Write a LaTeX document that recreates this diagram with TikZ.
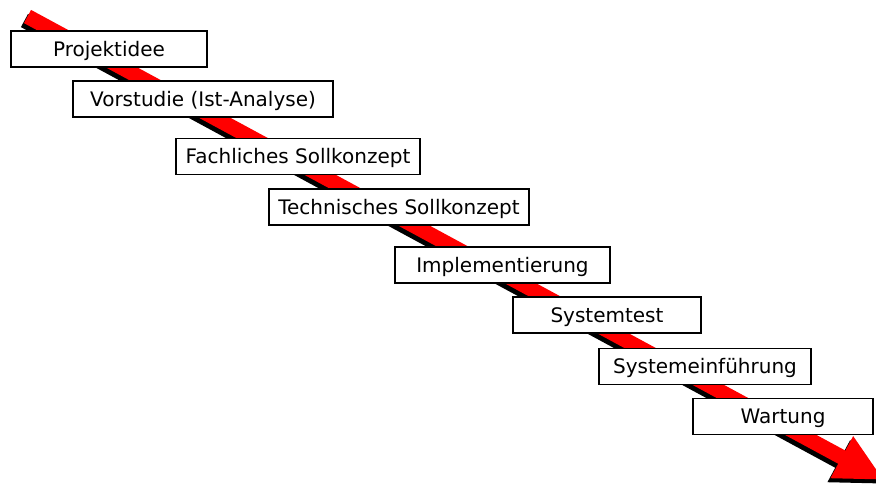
\documentclass[tikz,border=0pt]{standalone}
\usepackage{fontspec}
\setmainfont{DejaVu Sans}
\usetikzlibrary{arrows.meta}
\tikzstyle{phase} = [draw=black, fill=white, line width=1.5pt, rectangle, inner sep=0pt, minimum height=36pt, text height=14.6pt, text depth=0pt, font=\fontsize{20pt}{24pt}\selectfont]
\tikzstyle{pfeil} = [line width=15pt, -{Triangle[width=44pt, length=48pt]}]

\begin{document}
\begin{tikzpicture}[x=1pt, y=-1pt]
	\useasboundingbox (0,0) rectangle (876,485);
	\clip (0,0) rectangle (876,485);
	\coordinate (start) at (27.5,16.5);
	\coordinate (ende) at (884,480);
	\draw[pfeil, black] ([shift={(-3,4)}]start) -- ([shift={(-3,4)}]ende);
	\draw[pfeil, red] (start) -- (ende);
	\node[phase, minimum width=196pt](idee) at (109,49) {Projektidee};
	\node[phase, minimum width=260pt](vorstudie) at (203,99) {Vorstudie (Ist-Analyse)};
	\node[phase, minimum width=244pt](fachlich) at (298,156.5) {Fachliches Sollkonzept};
	\node[phase, minimum width=260pt](technisch) at (399,207) {Technisches Sollkonzept};
	\node[phase, minimum width=215pt](impl) at (502.5,265) {Implementierung};
	\node[phase, minimum width=188pt](test) at (607,315) {Systemtest};
	\node[phase, minimum width=212pt](einf) at (705,366.5) {Systemeinführung};
	\node[phase, minimum width=180pt](wartung) at (783,416.5) {Wartung};
\end{tikzpicture}
\end{document}
